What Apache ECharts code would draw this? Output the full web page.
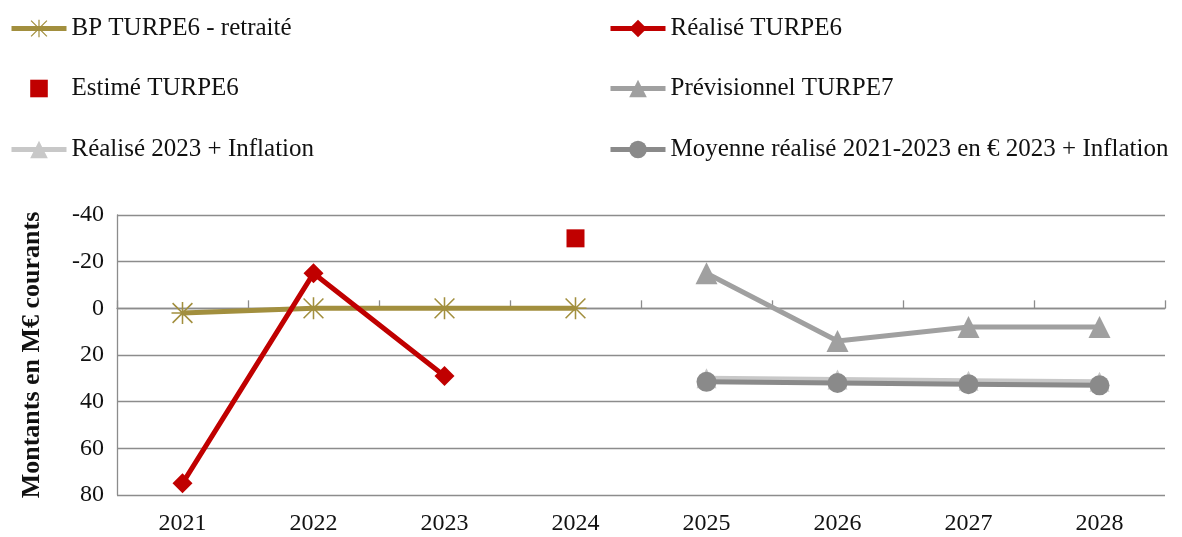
<!DOCTYPE html>
<html><head><meta charset="utf-8">
<script src="https://cdn.jsdelivr.net/npm/echarts@6/dist/echarts.min.js"></script>
<style>html,body{margin:0;padding:0;background:#fff}#c{width:1182px;height:537px}</style>
</head><body><div id="c"></div>
<script>
const categories = ['2021','2022','2023','2024','2025','2026','2027','2028'];
const bpTurpe6 = [2, 0, 0, 0, null, null, null, null];
const realiseTurpe6 = [75, -15, 29, null, null, null, null, null];
const estimeTurpe6 = [null, null, null, -30, null, null, null, null];
const previsionnelTurpe7 = [null, null, null, null, -15, 14, 8, 8];
const realise2023Inflation = [null, null, null, null, 30, 30.5, 31, 31.5];
const moyenneRealise = [null, null, null, null, 31.5, 32, 32.5, 33];
const yTicks = { min: -40, max: 80, interval: 20 };

const FONT = '"Liberation Serif", "DejaVu Serif", serif';
const GOLD = '#A28F3E', RED = '#C00000', G1 = '#A0A0A0', G2 = '#C8C8C8', G3 = '#8A8A8A';
const ASTER = 'path://M9.3 0L10.7 0L10.7 20L9.3 20Z M0 9.3L20 9.3L20 10.7L0 10.7Z M0.5 1.5L1.5 0.5L19.5 18.5L18.5 19.5Z M18.5 0.5L19.5 1.5L1.5 19.5L0.5 18.5Z';

const names = ['BP TURPE6 - retraité','Réalisé TURPE6','Estimé TURPE6','Prévisionnel TURPE7','Réalisé 2023 + Inflation','Moyenne réalisé 2021-2023 en € 2023 + Inflation'];
const legPos = [[9,16],[608,16],[9,76],[608,76],[9,137],[608,137]];
const legends = names.map((n,i)=>({
  data:[n], left:legPos[i][0], top:legPos[i][1], itemWidth:55, itemHeight:22, padding:0,
  lineStyle:{width:5}, textStyle:{fontFamily:FONT,fontSize:25,color:'#111'}, selectedMode:false
}));

const chart = echarts.init(document.getElementById('c'), null, {renderer:'canvas'});
chart.setOption({
  animation:false,
  legend: legends,
  grid:{left:117,right:17,top:215,bottom:42,containLabel:false},
  xAxis:[{
    type:'category', data:categories, position:'bottom',
    axisLine:{show:false,onZero:false}, axisTick:{show:false},
    axisLabel:{fontFamily:FONT,fontSize:24,color:'#111',margin:17}
  },{
    type:'category', data:categories, position:'top',
    axisLine:{show:true,onZero:true,lineStyle:{color:'#8c8c8c',width:1.3}},
    axisTick:{show:true,inside:false,length:8,lineStyle:{color:'#8c8c8c',width:1.3}},
    axisLabel:{show:false}
  }],
  yAxis:{
    type:'value', inverse:true, min:yTicks.min, max:yTicks.max, interval:yTicks.interval,
    name:'Montants en M€ courants', nameLocation:'middle', nameGap:72, nameRotate:90,
    nameTextStyle:{fontFamily:FONT,fontSize:26,fontWeight:'bold',color:'#111'},
    axisLine:{show:true,lineStyle:{color:'#8c8c8c',width:1.3}},
    axisTick:{show:false},
    axisLabel:{fontFamily:FONT,fontSize:24,color:'#111',margin:13},
    splitLine:{show:true,lineStyle:{color:'#8c8c8c',width:1.3}}
  },
  series:[
    {name:names[0],type:'line',data:bpTurpe6,symbol:ASTER,symbolSize:22,
     lineStyle:{color:GOLD,width:5},itemStyle:{color:GOLD},z:3},
    {name:names[1],type:'line',data:realiseTurpe6,symbol:'diamond',symbolSize:20,
     lineStyle:{color:RED,width:5},itemStyle:{color:RED},z:4},
    {name:names[2],type:'line',data:estimeTurpe6,symbol:'rect',symbolSize:18,
     lineStyle:{color:RED,width:0,opacity:0},itemStyle:{color:RED},z:4},
    {name:names[3],type:'line',data:previsionnelTurpe7,symbol:'triangle',symbolSize:22,
     lineStyle:{color:G1,width:5},itemStyle:{color:G1},z:3},
    {name:names[4],type:'line',data:realise2023Inflation,symbol:'triangle',symbolSize:20,
     lineStyle:{color:G2,width:5},itemStyle:{color:G2},z:2},
    {name:names[5],type:'line',data:moyenneRealise,symbol:'circle',symbolSize:20,
     lineStyle:{color:G3,width:5},itemStyle:{color:G3},z:3}
  ]
});
</script></body></html>
